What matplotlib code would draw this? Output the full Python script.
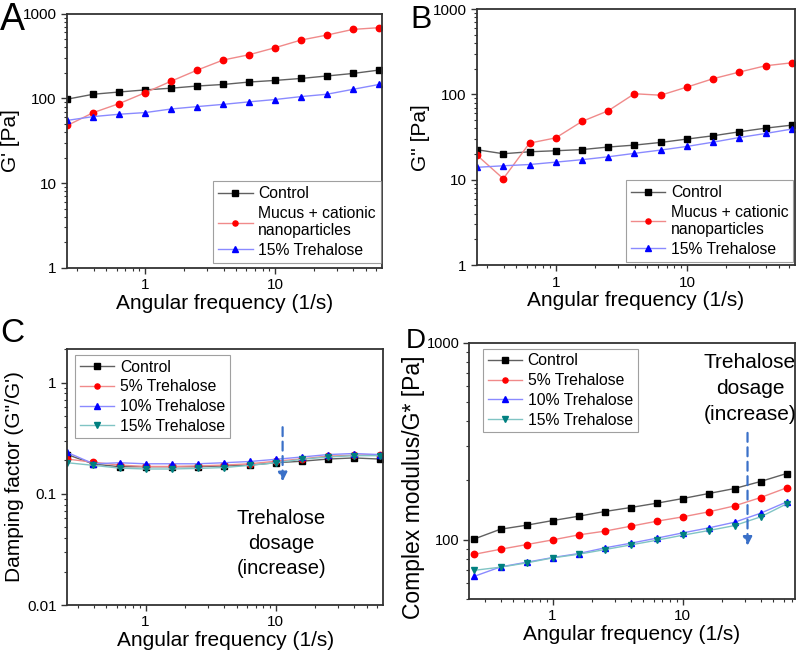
import matplotlib
matplotlib.use("Agg")
import matplotlib.pyplot as plt
from matplotlib.ticker import LogLocator, NullFormatter, FuncFormatter, FixedLocator

plt.rcParams["font.family"] = ["Liberation Sans", "DejaVu Sans"]

# angular frequency (1/s)
freq = [0.251, 0.398, 0.631, 1.0, 1.585, 2.512, 3.98, 6.31, 10.0, 15.85, 25.1, 39.8, 63.1]

# A: G' [Pa]
a_control = [98, 112, 119, 126, 132, 140, 146, 156, 163, 172, 184, 197, 216]
a_mucus = [48, 68, 87, 117, 160, 216, 284, 328, 397, 489, 560, 653, 684]
a_treh15 = [55, 61, 65, 68, 75, 80, 85, 91, 97, 105, 112, 128, 146]

# B: G'' [Pa]
b_control = [22.5, 20.2, 21.3, 21.9, 22.6, 24.2, 25.5, 27.4, 30.0, 32.8, 36.5, 40.3, 43.7]
b_mucus = [19.4, 10.3, 26.9, 31.0, 48.3, 64.4, 102, 98, 122, 153, 183, 217, 235]
b_treh15 = [14.0, 14.6, 15.1, 16.1, 17.2, 18.6, 20.4, 22.3, 24.6, 27.6, 31.3, 34.9, 39.3]

# C: damping factor G''/G'
c_control = [0.225, 0.185, 0.175, 0.175, 0.175, 0.175, 0.178, 0.181, 0.19, 0.196, 0.205, 0.21, 0.205]
c_treh5 = [0.205, 0.192, 0.181, 0.176, 0.176, 0.178, 0.181, 0.186, 0.196, 0.206, 0.218, 0.222, 0.225]
c_treh10 = [0.235, 0.186, 0.19, 0.186, 0.186, 0.186, 0.19, 0.195, 0.204, 0.214, 0.225, 0.23, 0.225]
c_treh15 = [0.19, 0.18, 0.17, 0.167, 0.167, 0.169, 0.172, 0.18, 0.19, 0.204, 0.214, 0.22, 0.22]

# D: complex modulus G* [Pa]
d_control = [100.8, 112.9, 118.3, 124.9, 131.4, 138.8, 145.5, 153.0, 161.6, 171.4, 181.7, 197.3, 216.6]
d_treh5 = [84.2, 89.3, 94.3, 99.6, 105.6, 110.3, 116.9, 123.9, 130.4, 138.3, 148.3, 163.5, 183.2]
d_treh10 = [65.1, 72.6, 76.7, 81.0, 84.9, 90.7, 95.8, 101.6, 108.1, 114.6, 122.5, 136.1, 155.3]
d_treh15 = [69.8, 72.4, 76.1, 80.7, 84.2, 88.9, 93.9, 99.2, 105.2, 111.1, 117.8, 130.4, 151.8]

# marker / line styles per series
STYLE = {
    "Control": dict(marker="s", color="#000000", line="#606060"),
    "red": dict(marker="o", color="#ff0000", line="#f08a8a"),
    "blue": dict(marker="^", color="#0000ff", line="#8a8aff"),
    "teal": dict(marker="v", color="#008080", line="#80c4c4"),
}


def series(ax, x, y, key, label):
    st = STYLE[key]
    ax.plot(x, y, color=st["line"], lw=1.0, marker=st["marker"], ms=4.6,
            mfc=st["color"], mec=st["color"], label=label)


def style_axes(ax, ylabel, ylim, xlim=(0.25, 67), ylabel_size=15):
    ax.set_xscale("log")
    ax.set_yscale("log")
    ax.set_xlim(*xlim)
    ax.set_ylim(*ylim)
    ax.set_xlabel("Angular frequency (1/s)", fontsize=15, labelpad=1)
    ax.set_ylabel(ylabel, fontsize=ylabel_size, labelpad=2)
    ax.xaxis.set_major_locator(FixedLocator([1, 10]))
    ax.xaxis.set_minor_locator(LogLocator(base=10, subs=range(2, 10), numticks=20))
    ax.xaxis.set_minor_formatter(NullFormatter())
    ax.xaxis.set_major_formatter(FuncFormatter(lambda v, p: f"{v:g}"))
    ax.yaxis.set_major_formatter(FuncFormatter(lambda v, p: f"{v:g}"))
    ax.yaxis.set_minor_formatter(NullFormatter())
    ax.tick_params(which="both", direction="out", labelsize=11, color="#333333")
    ax.tick_params(which="major", length=4, width=1)
    ax.tick_params(which="minor", length=2.5, width=0.8)
    for sp in ax.spines.values():
        sp.set_color("#333333")
        sp.set_linewidth(1.3)


def legend(ax, loc, anchor):
    leg = ax.legend(loc=loc, bbox_to_anchor=anchor, fontsize=11.3, frameon=True,
                    fancybox=False, handlelength=2.2, handletextpad=0.35,
                    labelspacing=0.3, borderpad=0.3, borderaxespad=0,
                    markerscale=0.8)
    leg.get_frame().set_edgecolor("#888888")
    leg.get_frame().set_linewidth(0.8)
    return leg


fig = plt.figure(figsize=(8.0, 6.53), dpi=100)

# ---- A ----
axA = fig.add_axes([0.084, 0.590, 0.394, 0.389])
series(axA, freq, a_control, "Control", "Control")
series(axA, freq, a_mucus, "red", "Mucus + cationic\nnanoparticles")
series(axA, freq, a_treh15, "blue", "15% Trehalose")
style_axes(axA, "G' [Pa]", (1, 1000))
axA.yaxis.set_major_locator(FixedLocator([1, 10, 100, 1000]))
legend(axA, "lower right", (0.994, 0.02))

# ---- B ----
axB = fig.add_axes([0.596, 0.594, 0.398, 0.392])
series(axB, freq, b_control, "Control", "Control")
series(axB, freq, b_mucus, "red", "Mucus + cationic\nnanoparticles")
series(axB, freq, b_treh15, "blue", "15% Trehalose")
style_axes(axB, "G'' [Pa]", (1, 1000))
axB.yaxis.set_major_locator(FixedLocator([1, 10, 100, 1000]))
legend(axB, "lower right", (0.994, 0.014))

# ---- C ----
axC = fig.add_axes([0.084, 0.0735, 0.395, 0.392])
series(axC, freq, c_control, "Control", "Control")
series(axC, freq, c_treh5, "red", "5% Trehalose")
series(axC, freq, c_treh10, "blue", "10% Trehalose")
series(axC, freq, c_treh15, "teal", "15% Trehalose")
style_axes(axC, "Damping factor (G''/G')", (0.01, 2.0))
axC.yaxis.set_major_locator(FixedLocator([0.01, 0.1, 1]))
legend(axC, "upper left", (0.025, 0.977))
axC.annotate("", xy=(11.3, 0.122), xytext=(11.3, 0.42),
             arrowprops=dict(arrowstyle="-|>", color="#3a70c8", lw=1.6,
                             linestyle=(0, (4, 2.5)), mutation_scale=13))
axC.text(11.0, 0.036, "Trehalose\ndosage\n(increase)", ha="center", va="center",
         fontsize=14.5, linespacing=1.4)

# ---- D ----
axD = fig.add_axes([0.586, 0.083, 0.4075, 0.392])
series(axD, freq, d_control, "Control", "Control")
series(axD, freq, d_treh5, "red", "5% Trehalose")
series(axD, freq, d_treh10, "blue", "10% Trehalose")
series(axD, freq, d_treh15, "teal", "15% Trehalose")
style_axes(axD, "Complex modulus/G* [Pa]", (50, 1000), xlim=(0.227, 73),
           ylabel_size=16.5)
axD.tick_params(axis="y", labelsize=10.5, pad=2.5)
axD.yaxis.set_label_coords(-0.135, 0.437)
axD.yaxis.set_major_locator(FixedLocator([100, 1000]))
axD.yaxis.set_minor_locator(LogLocator(base=10, subs=range(2, 10), numticks=20))
legend(axD, "upper left", (0.043, 0.977))
axD.annotate("", xy=(31.6, 90), xytext=(31.6, 360),
             arrowprops=dict(arrowstyle="-|>", color="#3a70c8", lw=1.6,
                             linestyle=(0, (4, 2.5)), mutation_scale=13))
axD.text(33, 585, "Trehalose\ndosage\n(increase)", ha="center", va="center",
         fontsize=15, linespacing=1.45)

# panel letters (baseline placed)
for x, y, s, fs in [(0.0, 0.954, "A", 27), (0.513, 0.957, "B", 23),
                    (0.0, 0.476, "C", 24), (0.507, 0.467, "D", 20)]:
    fig.text(x, y, s, fontsize=fs, ha="left", va="baseline")

fig.savefig("out.png", dpi=100)
